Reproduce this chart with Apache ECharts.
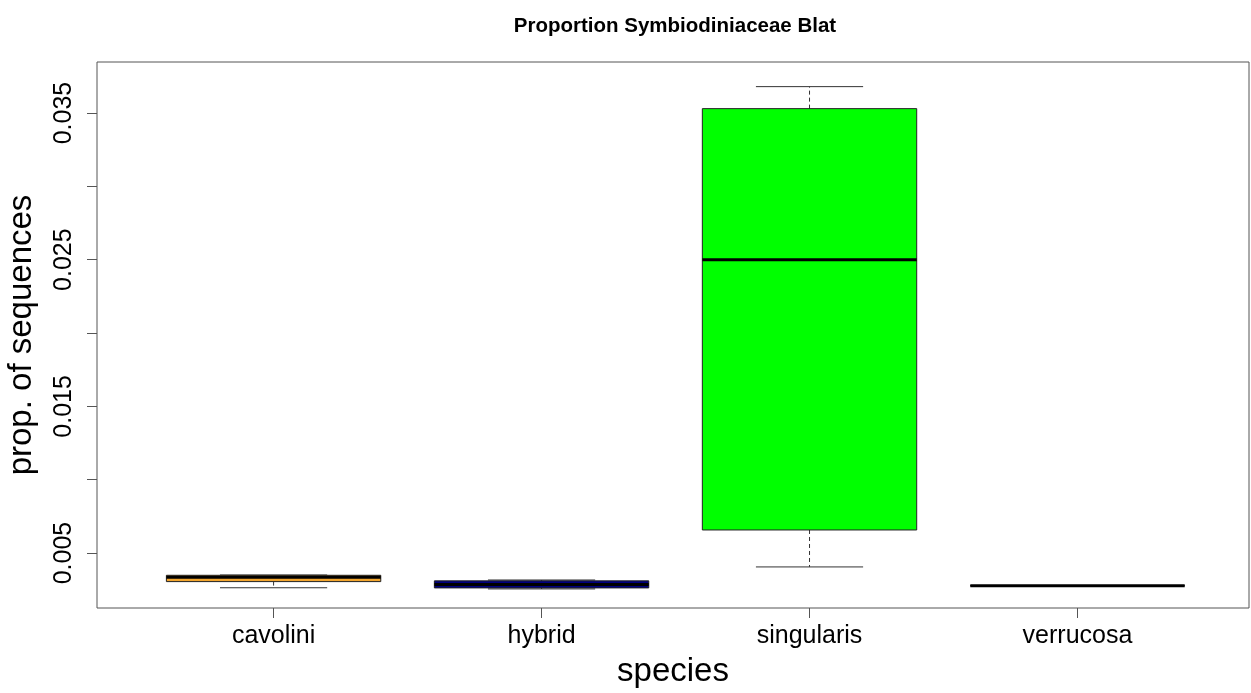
<!DOCTYPE html>
<html><head><meta charset="utf-8">
<script src="https://cdn.jsdelivr.net/npm/echarts@6/dist/echarts.min.js"></script>
<style>html,body{margin:0;padding:0;background:#fff}#c{width:1251px;height:693px}</style>
</head><body><div id="c"></div>
<script>
const categories = ['cavolini', 'hybrid', 'singularis', 'verrucosa'];
const whiskerLow  = [0.00263, 0.00255, 0.00405, 0.00277];
const q1          = [0.00305, 0.00262, 0.00657, 0.00277];
const median      = [0.00335, 0.00285, 0.02500, 0.00277];
const q3          = [0.00348, 0.00310, 0.03530, 0.00277];
const whiskerHigh = [0.00350, 0.00316, 0.03680, 0.00277];
const outliers    = [[1, 0.00423]];
const fills       = ['#F2A52E', '#000080', '#00FF00', '#000000'];
const yLabelTicks = [0.005, 0.015, 0.025, 0.035];
const yMinorTicks = [0.005, 0.010, 0.015, 0.020, 0.025, 0.030, 0.035];

const boxData = categories.map((c, i) => [i + 1, whiskerLow[i], q1[i], median[i], q3[i], whiskerHigh[i], i]);
const font = '"Liberation Sans", Arial, sans-serif';

const chart = echarts.init(document.getElementById('c'), null, {renderer: 'canvas'});
chart.setOption({
  animation: false,
  backgroundColor: '#fff',
  title: {
    text: 'Proportion Symbiodiniaceae Blat',
    left: 670, top: 11, textAlign: 'center',
    textStyle: {fontFamily: font, fontSize: 20.5, fontWeight: 'bold', color: '#000'}
  },
  grid: {left: 97, right: 2, top: 62, bottom: 85, show: true, borderColor: '#555', borderWidth: 1,
    backgroundColor: 'transparent', containLabel: false, outerBoundsMode: 'none'},
  xAxis: {
    type: 'value', min: 0.341, max: 4.64,
    name: 'species', nameLocation: 'middle', nameGap: 47,
    nameTextStyle: {fontFamily: font, fontSize: 33, color: '#000'},
    axisLine: {show: false},
    splitLine: {show: false},
    axisTick: {show: true, length: 10, customValues: [1, 2, 3, 4], lineStyle: {color: '#555'}},
    axisLabel: {customValues: [1, 2, 3, 4], margin: 16, fontFamily: font, fontSize: 25, color: '#000',
      formatter: v => categories[Math.round(v) - 1] || ''}
  },
  yAxis: {
    type: 'value', min: 0.00125, max: 0.03848,
    name: 'prop. of sequences', nameLocation: 'middle', nameGap: 59,
    nameTextStyle: {fontFamily: font, fontSize: 33, color: '#000'},
    axisLine: {show: false},
    splitLine: {show: false},
    axisTick: {show: true, length: 10, customValues: yMinorTicks, lineStyle: {color: '#555'}},
    axisLabel: {customValues: yLabelTicks, rotate: 90, margin: 20, fontFamily: font, fontSize: 25, color: '#000',
      formatter: v => v.toFixed(3)}
  },
  series: [{
    type: 'custom',
    data: boxData,
    encode: {x: 0, y: [1, 2, 3, 4, 5]},
    renderItem: function (params, api) {
      const x = api.value(0);
      const idx = api.value(6);
      const halfBox = api.size([0.4, 0])[0];
      const halfCap = api.size([0.2, 0])[0];
      const pLow = api.coord([x, api.value(1)]);
      const pQ1 = api.coord([x, api.value(2)]);
      const pMed = api.coord([x, api.value(3)]);
      const pQ3 = api.coord([x, api.value(4)]);
      const pHigh = api.coord([x, api.value(5)]);
      const cx = pMed[0];
      const wStyle = {stroke: '#333', lineWidth: 1, lineDash: [4, 3]};
      const cStyle = {stroke: '#333', lineWidth: 1};
      return {
        type: 'group',
        children: [
          {type: 'line', shape: {x1: cx, y1: pQ1[1], x2: cx, y2: pLow[1]}, style: wStyle},
          {type: 'line', shape: {x1: cx, y1: pQ3[1], x2: cx, y2: pHigh[1]}, style: wStyle},
          {type: 'line', shape: {x1: cx - halfCap, y1: pLow[1], x2: cx + halfCap, y2: pLow[1]}, style: cStyle},
          {type: 'line', shape: {x1: cx - halfCap, y1: pHigh[1], x2: cx + halfCap, y2: pHigh[1]}, style: cStyle},
          {type: 'rect', shape: {x: cx - halfBox, y: pQ3[1], width: 2 * halfBox, height: pQ1[1] - pQ3[1]},
            style: {fill: fills[idx], stroke: '#222', lineWidth: 1}},
          {type: 'line', shape: {x1: cx - halfBox, y1: pMed[1], x2: cx + halfBox, y2: pMed[1]},
            style: {stroke: '#000', lineWidth: 3}}
        ]
      };
    }
  }, {
    type: 'scatter',
    data: outliers,
    symbol: 'emptyCircle',
    symbolSize: 9,
    itemStyle: {color: '#fff', borderColor: '#222', borderWidth: 1}
  }]
});
</script></body></html>
